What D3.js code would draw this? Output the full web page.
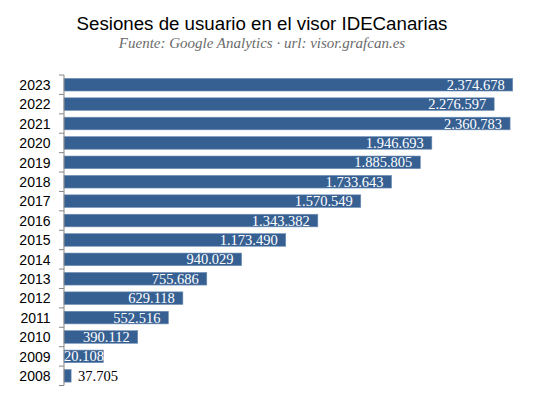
<!DOCTYPE html>
<html><head><meta charset="utf-8">
<script src="https://cdn.jsdelivr.net/npm/d3@7/dist/d3.min.js"></script>
<style>body{margin:0;background:#fff}svg{display:block}</style>
</head><body>
<script>
const years = ["2023","2022","2021","2020","2019","2018","2017","2016","2015","2014","2013","2012","2011","2010","2009","2008"];
const sessions = [2374678,2276597,2360783,1946693,1885805,1733643,1570549,1343382,1173490,940029,755686,629118,552516,390112,208108,37705];
const valueLabels = ["2.374.678","2.276.597","2.360.783","1.946.693","1.885.805","1.733.643","1.570.549","1.343.382","1.173.490","940.029","755.686","629.118","552.516","390.112","20.108","37.705"];
const title = "Sesiones de usuario en el visor IDECanarias";
const subtitle = "Fuente: Google Analytics · url: visor.grafcan.es";

const W = 551, H = 400;
const svg = d3.select("body").append("svg").attr("width", W).attr("height", H);

const x0 = 64;
const x = d3.scaleLinear().domain([0, 2374678]).range([x0, 512.7]);
const y = d3.scaleBand().domain(years).range([75, 385.5]).paddingInner(0.35).paddingOuter(0.175);

svg.append("text").attr("x", 262).attr("y", 29.5).attr("text-anchor", "middle")
  .attr("font-family", "Liberation Sans, Arial, sans-serif").attr("font-size", 18.7).attr("fill", "#000")
  .text(title);
svg.append("text").attr("x", 262).attr("y", 47.5).attr("text-anchor", "middle")
  .attr("font-family", "Liberation Serif, serif").attr("font-style", "italic").attr("font-size", 15).attr("fill", "#6b6b6b")
  .text(subtitle);

const data = years.map((yr, i) => ({yr, v: sessions[i], lab: valueLabels[i]}));

svg.append("g").selectAll("rect").data(data).join("rect")
  .attr("x", x(0)).attr("y", d => y(d.yr))
  .attr("width", d => x(d.v) - x(0)).attr("height", y.bandwidth())
  .attr("fill", "#376092").attr("stroke", "#6f8fb5").attr("stroke-width", 0.6);

// axis
const axis = d3.axisLeft(y).tickSize(0).tickPadding(13.5);
const ag = svg.append("g").attr("transform", `translate(${x0},0)`).call(axis);
ag.select(".domain").remove();
ag.selectAll("text").attr("font-family", "Liberation Sans, Arial, sans-serif").attr("font-size", 14).attr("fill", "#000").attr("dy", "0.37em");
// tick marks at band boundaries
const bounds = years.map(yr => y(yr) - y.step() * y.paddingInner() / 2).concat([y(years[years.length-1]) + y.bandwidth() + y.step()*y.paddingInner()/2]);
svg.append("g").selectAll("line").data(bounds).join("line")
  .attr("x1", x0 - 5).attr("x2", x0).attr("y1", d => d).attr("y2", d => d)
  .attr("stroke", "#868686");
svg.append("line").attr("x1", x0).attr("x2", x0).attr("y1", bounds[0]).attr("y2", bounds[bounds.length-1]).attr("stroke", "#868686");

// value labels
const lg = svg.append("g").attr("font-family", "Liberation Serif, serif").attr("font-size", 14.5);
data.forEach(d => {
  const t = lg.append("text").attr("y", y(d.yr) + y.bandwidth() - 1.2).text(d.lab);
  const tw = t.node().getComputedTextLength();
  const bw = x(d.v) - x(0);
  if (bw < 20) {
    t.attr("x", x(d.v) + 7).attr("fill", "#000");
  } else {
    const right = Math.max(x(d.v) - 8, x(0) + tw);
    t.attr("x", right).attr("text-anchor", "end").attr("fill", "#fff");
  }
});
</script>
</body></html>
